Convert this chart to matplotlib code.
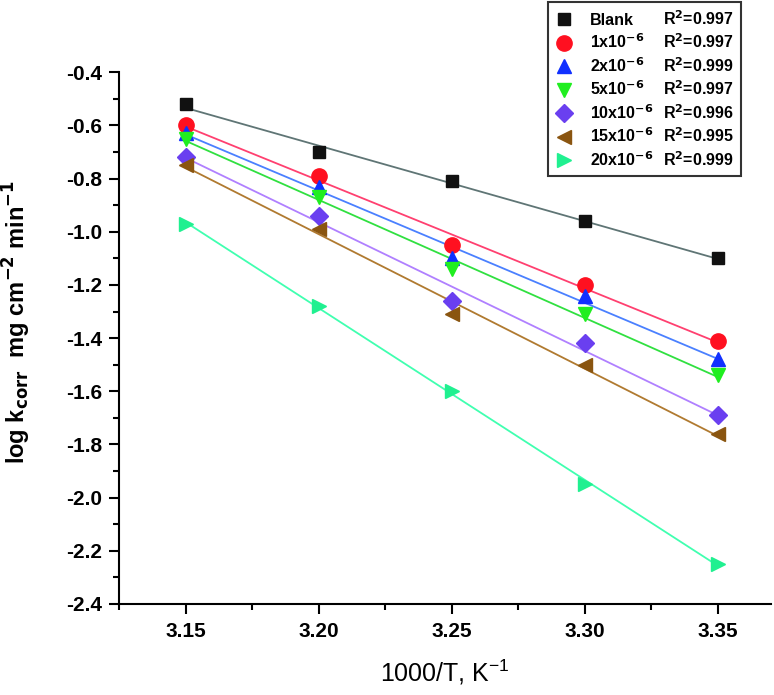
import numpy as np
import matplotlib
matplotlib.use('Agg')
import matplotlib.pyplot as plt
from matplotlib.lines import Line2D
from matplotlib.ticker import MultipleLocator

plt.rcParams['font.family'] = ['Liberation Sans', 'DejaVu Sans']

# 1000/T values
x = np.array([3.15, 3.20, 3.25, 3.30, 3.35])

# log k_corr for each concentration
blank = [-0.52, -0.70, -0.81, -0.96, -1.10]
c1 = [-0.60, -0.79, -1.05, -1.20, -1.41]
c2 = [-0.63, -0.83, -1.10, -1.24, -1.48]
c5 = [-0.65, -0.87, -1.14, -1.31, -1.54]
c10 = [-0.72, -0.94, -1.26, -1.42, -1.69]
c15 = [-0.75, -0.99, -1.31, -1.50, -1.76]
c20 = [-0.97, -1.28, -1.60, -1.95, -2.25]

names = ['Blank', r'1x10$^{\mathbf{-6}}$', r'2x10$^{\mathbf{-6}}$', r'5x10$^{\mathbf{-6}}$',
         r'10x10$^{\mathbf{-6}}$', r'15x10$^{\mathbf{-6}}$', r'20x10$^{\mathbf{-6}}$']
r2 = ['0.997', '0.997', '0.999', '0.997', '0.996', '0.995', '0.999']

series = [blank, c1, c2, c5, c10, c15, c20]
markers = ['s', 'o', '^', 'v', 'D', '<', '>']
mcolors = ['#111111', '#ff1020', '#1030ff', '#20ee20', '#6a3ff0', '#8a5510', '#20f090']
lcolors = ['#5f7575', '#ff4070', '#4a80ff', '#30e040', '#b080ff', '#b07a30', '#40ffb0']
msizes = [9, 11, 10, 10, 9, 10, 10]

fig = plt.figure(figsize=(7.74, 6.95), dpi=100)
ax = fig.add_axes([0.154, 0.131, 0.842, 0.765])

for y, m, mc, lc, ms in zip(series, markers, mcolors, lcolors, msizes):
    y = np.array(y)
    p = np.polyfit(x, y, 1)
    ax.plot(x, np.polyval(p, x), color=lc, lw=1.3, zorder=2)
    ax.plot(x, y, linestyle='none', marker=m, color=mc, ms=ms, zorder=3)

ax.set_xlim(3.125, 3.37)
ax.set_ylim(-2.4, -0.4)
ax.xaxis.set_minor_locator(MultipleLocator(0.025))
ax.yaxis.set_minor_locator(MultipleLocator(0.1))
ax.set_xticks([3.15, 3.20, 3.25, 3.30, 3.35])
ax.set_xticklabels(['3.15', '3.20', '3.25', '3.30', '3.35'])
yt = np.arange(-2.4, -0.39, 0.2)
ax.set_yticks(yt)
ax.set_yticklabels(['%.1f' % v for v in yt])

for s in ['top', 'right']:
    ax.spines[s].set_visible(False)
for s in ['left', 'bottom']:
    ax.spines[s].set_linewidth(1.5)
ax.tick_params(which='major', direction='out', length=7, width=1.5, labelsize=15)
ax.tick_params(which='minor', direction='out', length=4, width=1.5)
ax.tick_params(axis='x', pad=6)
ax.tick_params(axis='y', pad=5)
for lab in ax.get_xticklabels() + ax.get_yticklabels():
    lab.set_fontweight('bold')

ax.set_xlabel(r'1000/T, K$^{\mathregular{-1}}$', fontsize=18, labelpad=12)
ax.set_ylabel(r'log k$_{\mathbf{corr}}$  mg cm$^{\mathbf{-2}}$ min$^{\mathbf{-1}}$',
              fontsize=17, fontweight='bold')
ax.yaxis.set_label_coords(-0.132, 0.53)

handles = []
labels = []
for m, mc, ms, n in zip(markers, mcolors, msizes, names):
    handles.append(Line2D([], [], linestyle='none', marker=m, color=mc, ms=ms))
    labels.append(n)
for r in r2:
    handles.append(Line2D([], [], linestyle='none'))
    labels.append(r'R$^{\mathbf{2}}$=' + r)
leg = ax.legend(handles, labels, ncol=2, loc='upper right', bbox_to_anchor=(0.954, 1.132),
                borderaxespad=0, frameon=True, fancybox=False, edgecolor='black',
                prop={'weight': 'bold', 'size': 11.5}, handlelength=1.2,
                handletextpad=1.0, columnspacing=-1.6, labelspacing=0.3,
                borderpad=0.45)
leg.get_frame().set_linewidth(1.5)

fig.savefig('out.png', dpi=100)
